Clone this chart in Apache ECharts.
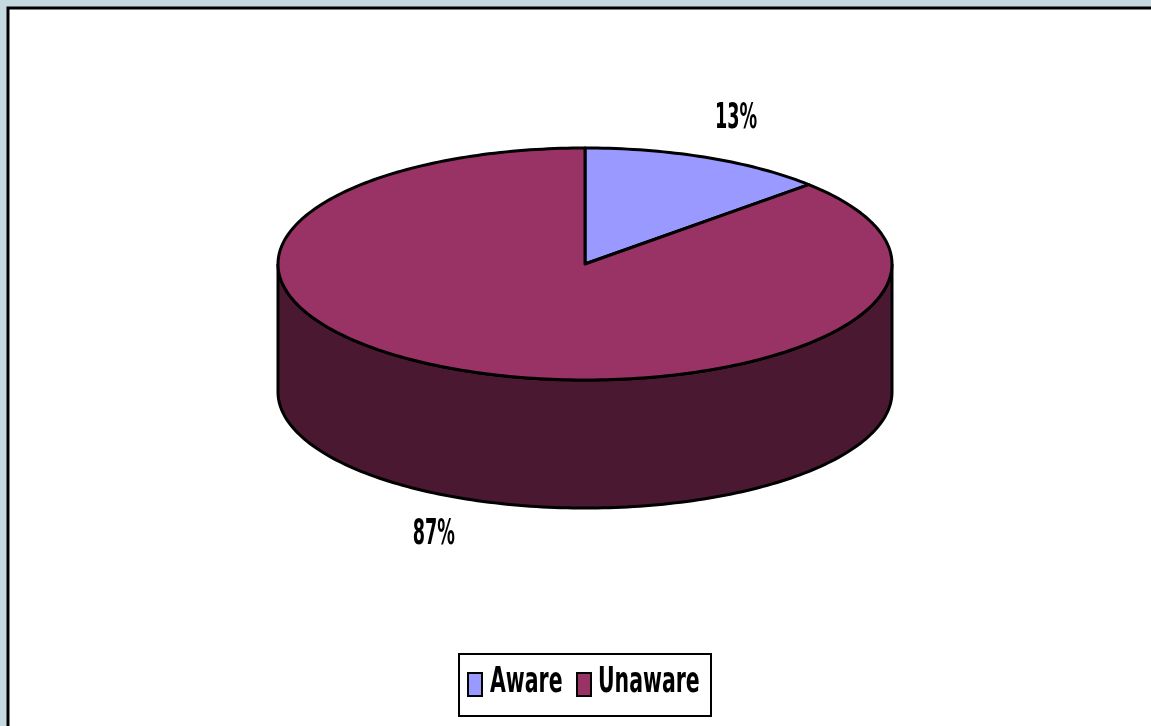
<!DOCTYPE html>
<html>
<head>
    <meta http-equiv="Content-Type" content="text/html; charset=utf-8">
    <title>Awareness</title>
    <script src="https://cdn.jsdelivr.net/npm/echarts@6/dist/echarts.min.js"></script>
    <style>
        html, body {margin:0; padding:0; background:#c5d9e0;}
    </style>
</head>
<body>
    <div id="main" style="width: 1151px;height:726px;"></div>
    <script type="text/javascript">
        // data
        var categories = ['Aware', 'Unaware'];
        var values = [13, 87];
        var topColors = ['#9999ff', '#993366'];
        var sideColors = ['#4d4d80', '#4a1931'];

        var total = values.reduce(function (a, b) { return a + b; }, 0);
        var fontFamily = '"Liberation Sans Narrow", "Arial Narrow", "DejaVu Sans Condensed", sans-serif';

        // pie layout (ellipse seen at an angle)
        var cx = 585, cy = 264, rx = 307, ry = 116, depth = 128;

        function pt(a, dy) {
            return [cx + rx * Math.sin(a), cy - ry * Math.cos(a) + (dy || 0)];
        }
        function arc(a0, a1, dy) {
            var pts = [];
            var n = Math.max(2, Math.ceil(Math.abs(a1 - a0) / 0.02));
            for (var i = 0; i <= n; i++) {
                pts.push(pt(a0 + (a1 - a0) * i / n, dy));
            }
            return pts;
        }

        function renderItem(params, api) {
            var idx = params.dataIndex;
            var before = 0;
            for (var i = 0; i < idx; i++) before += values[i];
            var a0 = before / total * Math.PI * 2;
            var a1 = (before + api.value(0)) / total * Math.PI * 2;
            var children = [];

            // front side wall
            var lo = Math.max(a0, Math.PI / 2), hi = Math.min(a1, Math.PI * 1.5);
            if (lo < hi) {
                var side = arc(lo, hi, 0).concat(arc(hi, lo, depth));
                children.push({
                    type: 'polygon', z2: 1,
                    shape: {points: side},
                    style: {fill: sideColors[idx], stroke: '#000', lineWidth: 3}
                });
            }
            // top face
            children.push({
                type: 'polygon', z2: 5,
                shape: {points: [[cx, cy]].concat(arc(a0, a1, 0))},
                style: {fill: topColors[idx], stroke: '#000', lineWidth: 3, lineJoin: 'round'}
            });
            // label
            var mid = (a0 + a1) / 2;
            var lx = cx + rx * 1.24 * Math.sin(mid);
            var ly = cy - ry * 1.36 * Math.cos(mid);
            if (Math.cos(mid) < 0) ly += depth - 2;
            children.push({
                type: 'text', z2: 10,
                x: lx, y: ly, scaleX: 0.56,
                style: {
                    text: Math.round(api.value(0) / total * 100) + '%',
                    font: 'bold 35px ' + fontFamily, fill: '#000', align: 'center', verticalAlign: 'middle'
                }
            });
            return {type: 'group', children: children};
        }

        // legend drawn as graphic
        var legendItems = [];
        var lxs = [[467, 490], [576, 598]];
        categories.forEach(function (name, i) {
            legendItems.push({
                type: 'rect', left: lxs[i][0], top: 672,
                shape: {width: 14, height: 23},
                style: {fill: topColors[i], stroke: '#000', lineWidth: 2}
            });
            legendItems.push({
                type: 'text', x: lxs[i][1], y: 683, scaleX: 0.65,
                style: {text: name, font: 'bold 35px ' + fontFamily,
                        fill: '#000', align: 'left', verticalAlign: 'middle'}
            });
        });

        var myChart = echarts.init(document.getElementById('main'));
        var option = {
            backgroundColor: '#c5d9e0',
            animation: false,
            graphic: [
                {type: 'rect', z: -10, shape: {x: 8, y: 8, width: 1300, height: 900},
                 style: {fill: '#fff', stroke: '#000', lineWidth: 3}},
                {type: 'rect', z: 0, shape: {x: 459, y: 654, width: 252, height: 62},
                 style: {fill: '#fff', stroke: '#000', lineWidth: 2}},
                {type: 'group', z: 1, children: legendItems}
            ],
            series: [{
                type: 'custom',
                coordinateSystem: 'none',
                renderItem: renderItem,
                data: values.map(function (v, i) { return {name: categories[i], value: [v]}; })
            }]
        };
        myChart.setOption(option);
    </script>
</body>
</html>
